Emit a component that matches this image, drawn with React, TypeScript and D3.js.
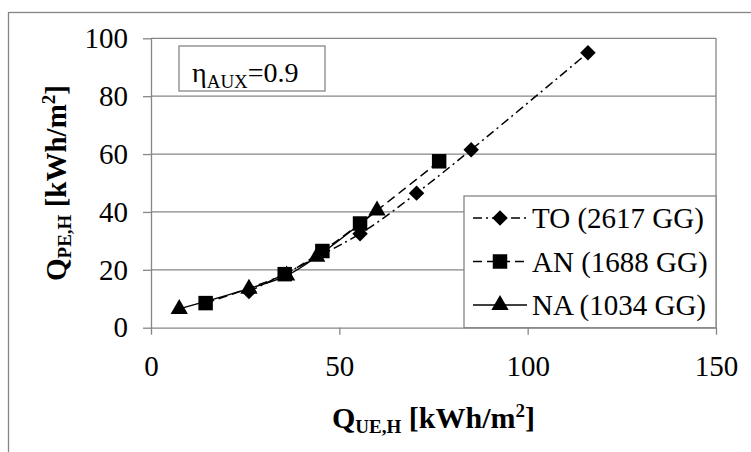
import React, { useEffect, useRef } from 'react'
import * as d3 from 'd3'

// Q_UE,H (x) and Q_PE,H (y) per climate zone, kWh/m2
const toQue = [26, 55.5, 70.5, 85, 116]
const toQpe = [12.5, 32.5, 46.5, 61.5, 95]
const anQue = [14.5, 35.5, 45.5, 55.5, 76.5]
const anQpe = [8.5, 18.5, 26.5, 36, 57.5]
const naQue = [7.5, 26, 36, 44, 60]
const naQpe = [6.5, 13.5, 18, 24.5, 40.5]

const seriesNames = ['TO (2617 GG)', 'AN (1688 GG)', 'NA (1034 GG)']
const xTicks = [0, 50, 100, 150]
const yTicks = [0, 20, 40, 60, 80, 100]

const FONT = "'Liberation Serif', 'Times New Roman', serif"

type Pt = { x: number; y: number }

function App() {
  const ref = useRef<SVGSVGElement>(null)

  useEffect(() => {
    const svg = d3.select(ref.current)
    svg.selectAll('*').remove()

    const margin = { top: 38.3, left: 151, right: 716, bottom: 327.7 }
    const x = d3.scaleLinear().domain([0, 150]).range([margin.left, margin.right])
    const y = d3.scaleLinear().domain([0, 100]).range([margin.bottom, margin.top])
    const grey = '#868686'

    // chart area border
    svg.append('rect')
      .attr('x', 8.5).attr('y', 12.5).attr('width', 800).attr('height', 500)
      .attr('fill', 'white').attr('stroke', grey).attr('stroke-width', 1.3)

    // horizontal gridlines
    svg.append('g').selectAll('line')
      .data(yTicks.filter(d => d > 0))
      .enter().append('line')
      .attr('x1', margin.left).attr('x2', margin.right)
      .attr('y1', d => y(d)).attr('y2', d => y(d))
      .attr('stroke', grey).attr('stroke-width', 1.3)

    // plot right border
    svg.append('line')
      .attr('x1', margin.right).attr('x2', margin.right)
      .attr('y1', margin.top).attr('y2', margin.bottom)
      .attr('stroke', grey).attr('stroke-width', 1.3)

    // y axis
    const yAxis = svg.append('g')
      .attr('transform', 'translate(' + margin.left + ',0)')
      .call(d3.axisLeft(y).tickValues(yTicks).tickSize(8).tickPadding(15).tickSizeOuter(0))
    yAxis.attr('font-family', null)
    yAxis.selectAll('path, line').attr('stroke', grey).attr('stroke-width', 1.3)
    yAxis.selectAll('text')
      .style('font-family', FONT).style('font-size', '29px').attr('fill', '#000')

    // x axis
    const xAxis = svg.append('g')
      .attr('transform', 'translate(0,' + margin.bottom + ')')
      .call(d3.axisBottom(x).tickValues(xTicks).tickSize(7).tickPadding(21).tickSizeOuter(0))
    xAxis.attr('font-family', null)
    xAxis.selectAll('path, line').attr('stroke', grey).attr('stroke-width', 1.3)
    xAxis.selectAll('text')
      .style('font-family', FONT).style('font-size', '29px').attr('fill', '#000')

    // series
    const series = [
      { name: seriesNames[0], xs: toQue, ys: toQpe, dash: '9,4,2,4', marker: 'diamond' },
      { name: seriesNames[1], xs: anQue, ys: anQpe, dash: '9,5', marker: 'square' },
      { name: seriesNames[2], xs: naQue, ys: naQpe, dash: null, marker: 'triangle' },
    ]

    const line = d3.line<Pt>()
      .x(d => x(d.x)).y(d => y(d.y))
      .curve(d3.curveCatmullRom.alpha(0.5))

    const symbolFor = (m: string) => {
      if (m === 'diamond') return d3.symbol().type(d3.symbolSquare).size(120)
      if (m === 'square') return d3.symbol().type(d3.symbolSquare).size(210)
      return d3.symbol().type(d3.symbolTriangle).size(130)
    }
    const rotFor = (m: string) => (m === 'diamond' ? ' rotate(45)' : '')

    // draw order: TO, NA, AN (squares end up on top)
    const drawOrder = [series[0], series[2], series[1]]
    drawOrder.forEach(s => {
      const pts: Pt[] = s.xs.map((v, i) => ({ x: v, y: s.ys[i] }))
      svg.append('path')
        .datum(pts)
        .attr('d', line)
        .attr('fill', 'none')
        .attr('stroke', '#000')
        .attr('stroke-width', 1.5)
        .attr('stroke-dasharray', s.dash)
      svg.append('g').selectAll('path')
        .data(pts)
        .enter().append('path')
        .attr('d', symbolFor(s.marker) as any)
        .attr('transform', d => 'translate(' + x(d.x) + ',' + y(d.y) + ')' + rotFor(s.marker))
        .attr('fill', '#000')
    })

    // legend
    const lg = svg.append('g')
    lg.append('rect')
      .attr('x', 464).attr('y', 196).attr('width', margin.right - 464).attr('height', margin.bottom - 196)
      .attr('fill', 'white').attr('stroke', grey).attr('stroke-width', 1.3)
    series.forEach((s, i) => {
      const ly = 218 + i * 43.5
      lg.append('line')
        .attr('x1', 473).attr('x2', 527).attr('y1', ly).attr('y2', ly)
        .attr('stroke', '#000').attr('stroke-width', 1.5)
        .attr('stroke-dasharray', s.dash)
      lg.append('path')
        .attr('d', symbolFor(s.marker) as any)
        .attr('transform', 'translate(500,' + ly + ')' + rotFor(s.marker))
        .attr('fill', '#000')
      lg.append('text')
        .attr('x', 532).attr('y', ly).attr('dy', '0.35em')
        .style('font-family', FONT).style('font-size', '29px')
        .text(s.name)
    })

    // eta annotation
    svg.append('rect')
      .attr('x', 179).attr('y', 46).attr('width', 146).attr('height', 45)
      .attr('fill', 'white').attr('stroke', grey).attr('stroke-width', 1.3)
    const eta = svg.append('text')
      .attr('x', 192).attr('y', 82)
      .style('font-family', FONT).style('font-size', '28px')
    eta.append('tspan').text('η')
    eta.append('tspan').style('font-size', '19px').attr('dy', 6).text('AUX')
    eta.append('tspan').attr('dy', -6).text('=0.9')

    // axis titles
    const xt = svg.append('text')
      .attr('x', (margin.left + margin.right) / 2).attr('y', 428)
      .attr('text-anchor', 'middle')
      .style('font-family', FONT).style('font-size', '30px').style('font-weight', 'bold')
    xt.append('tspan').text('Q')
    xt.append('tspan').style('font-size', '19px').attr('dy', 5).text('UE,H')
    xt.append('tspan').attr('dy', -5).text(' [kWh/m')
    xt.append('tspan').style('font-size', '19px').attr('dy', -11).text('2')
    xt.append('tspan').attr('dy', 11).text(']')

    const yt = svg.append('text')
      .attr('transform', 'translate(66,' + (margin.top + margin.bottom) / 2 + ') rotate(-90)')
      .attr('text-anchor', 'middle')
      .style('font-family', FONT).style('font-size', '29px').style('font-weight', 'bold')
    yt.append('tspan').text('Q')
    yt.append('tspan').style('font-size', '19px').attr('dy', 5).text('PE,H')
    yt.append('tspan').attr('dy', -5).text(' [kWh/m')
    yt.append('tspan').style('font-size', '19px').attr('dy', -11).text('2')
    yt.append('tspan').attr('dy', 11).text(']')
  }, [])

  return (
    <svg
      ref={ref}
      width={751}
      height={452}
      style={{ position: 'absolute', left: 0, top: 0, display: 'block', background: 'white' }}
    />
  )
}

export default App
